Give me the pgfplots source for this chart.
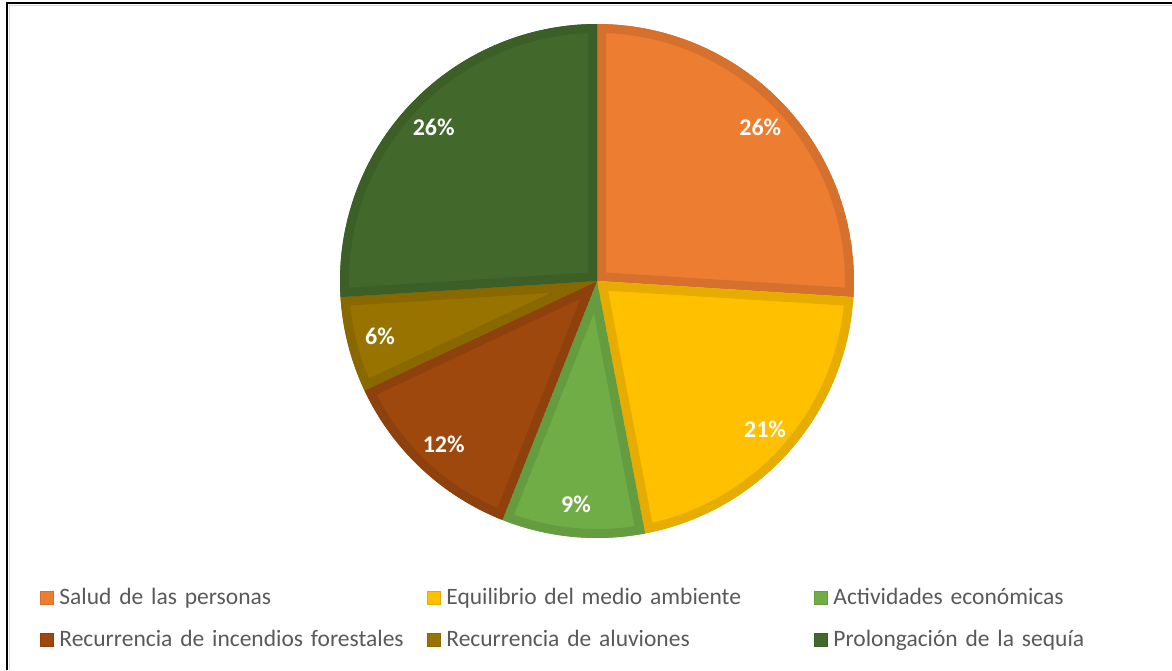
\documentclass[border=0pt]{standalone}
\usepackage{pgfplots}
\pgfplotsset{compat=1.18}
\usepackage{pgfplotstable}
\usepackage{fontspec}
\setmainfont{Carlito}

\definecolor{sf0}{HTML}{ED7D31}\definecolor{sb0}{HTML}{D5712D}
\definecolor{sf1}{HTML}{FFC000}\definecolor{sb1}{HTML}{E6AD00}
\definecolor{sf2}{HTML}{70AD47}\definecolor{sb2}{HTML}{659C40}
\definecolor{sf3}{HTML}{9E480E}\definecolor{sb3}{HTML}{8E410D}
\definecolor{sf4}{HTML}{997300}\definecolor{sb4}{HTML}{8A6800}
\definecolor{sf5}{HTML}{43682B}\definecolor{sb5}{HTML}{3C5E27}
\definecolor{legendgray}{HTML}{595959}

% share of each category (percent), clockwise from the top
\pgfplotstableread{
idx value
0 26
1 21
2 9
3 12
4 6
5 26
}\piedata

\begin{document}
\begin{tikzpicture}
\begin{axis}[
  scale only axis, width=586pt, height=335pt,
  xmin=0, xmax=1172, ymin=0, ymax=670,
  hide axis, clip=false,
  legend columns=3,
  legend cell align=left,
  legend image code/.code={\draw[#1, line width=0.5pt] (0pt,-3.25pt) rectangle (6.5pt,3.25pt);},
  legend style={at={(axis cs:40,51)}, anchor=west, draw=none, fill=none, inner sep=0pt,
    font=\fontsize{11.75}{14}\selectfont, text=legendgray,
    nodes={inner xsep=2.5pt, inner ysep=0pt, text width=181.5pt, align=left, text height=8.5pt, text depth=2.5pt, anchor=west},
    row sep=10pt, column sep=0pt},
]
\coordinate (bl) at (axis cs:0,0);
\coordinate (tr) at (axis cs:1172,670);

\addlegendimage{fill=sf0, draw=sb0}\addlegendentry{Salud de las personas}
\addlegendimage{fill=sf1, draw=sb1}\addlegendentry{Equilibrio del medio ambiente}
\addlegendimage{fill=sf2, draw=sb2}\addlegendentry{Actividades económicas}
\addlegendimage{fill=sf3, draw=sb3}\addlegendentry{Recurrencia de incendios forestales}
\addlegendimage{fill=sf4, draw=sb4}\addlegendentry{Recurrencia de aluviones}
\addlegendimage{fill=sf5, draw=sb5}\addlegendentry{Prolongación de la sequía}

\gdef\cumang{90}
\pgfplotsforeachungrouped \i in {0,...,5}{%
  \pgfplotstablegetelem{\i}{value}\of\piedata
  \let\pieval\pgfplotsretval
  \pgfmathsetmacro\endang{\cumang-3.6*\pieval}
  \pgfmathsetmacro\midang{(\cumang+\endang)/2}
  \pgfmathsetmacro\lx{597+224*cos(\midang)}
  \pgfmathsetmacro\ly{389+224*sin(\midang)}
  \edef\doslice{%
    \noexpand\begin{scope}
    \noexpand\clip (axis cs:597,389) -- ++(\cumang:128.5pt) arc[start angle=\cumang, end angle=\endang, radius=128.5pt] -- cycle;
    \noexpand\fill[sf\i] (axis cs:597,389) -- ++(\cumang:128.5pt) arc[start angle=\cumang, end angle=\endang, radius=128.5pt] -- cycle;
    \noexpand\draw[sb\i, line width=9pt] (axis cs:597,389) -- ++(\cumang:128.5pt) arc[start angle=\cumang, end angle=\endang, radius=128.5pt] -- cycle;
    \noexpand\end{scope}
    \noexpand\node[text=white, font=\noexpand\bfseries\noexpand\fontsize{12}{14}\noexpand\selectfont] at (axis cs:\lx,\ly) {\pieval\noexpand\%};
  }\doslice
  \global\let\cumang\endang
}

\draw[black, line width=1.1pt] (axis cs:7,0) -- (axis cs:7,667) -- (axis cs:1172,667);
\draw[black!15, line width=0.5pt] (axis cs:9,0) -- (axis cs:9,664.5) -- (axis cs:1172,664.5);
\end{axis}
\pgfresetboundingbox
\useasboundingbox (bl) rectangle (tr);
\end{tikzpicture}
\end{document}
